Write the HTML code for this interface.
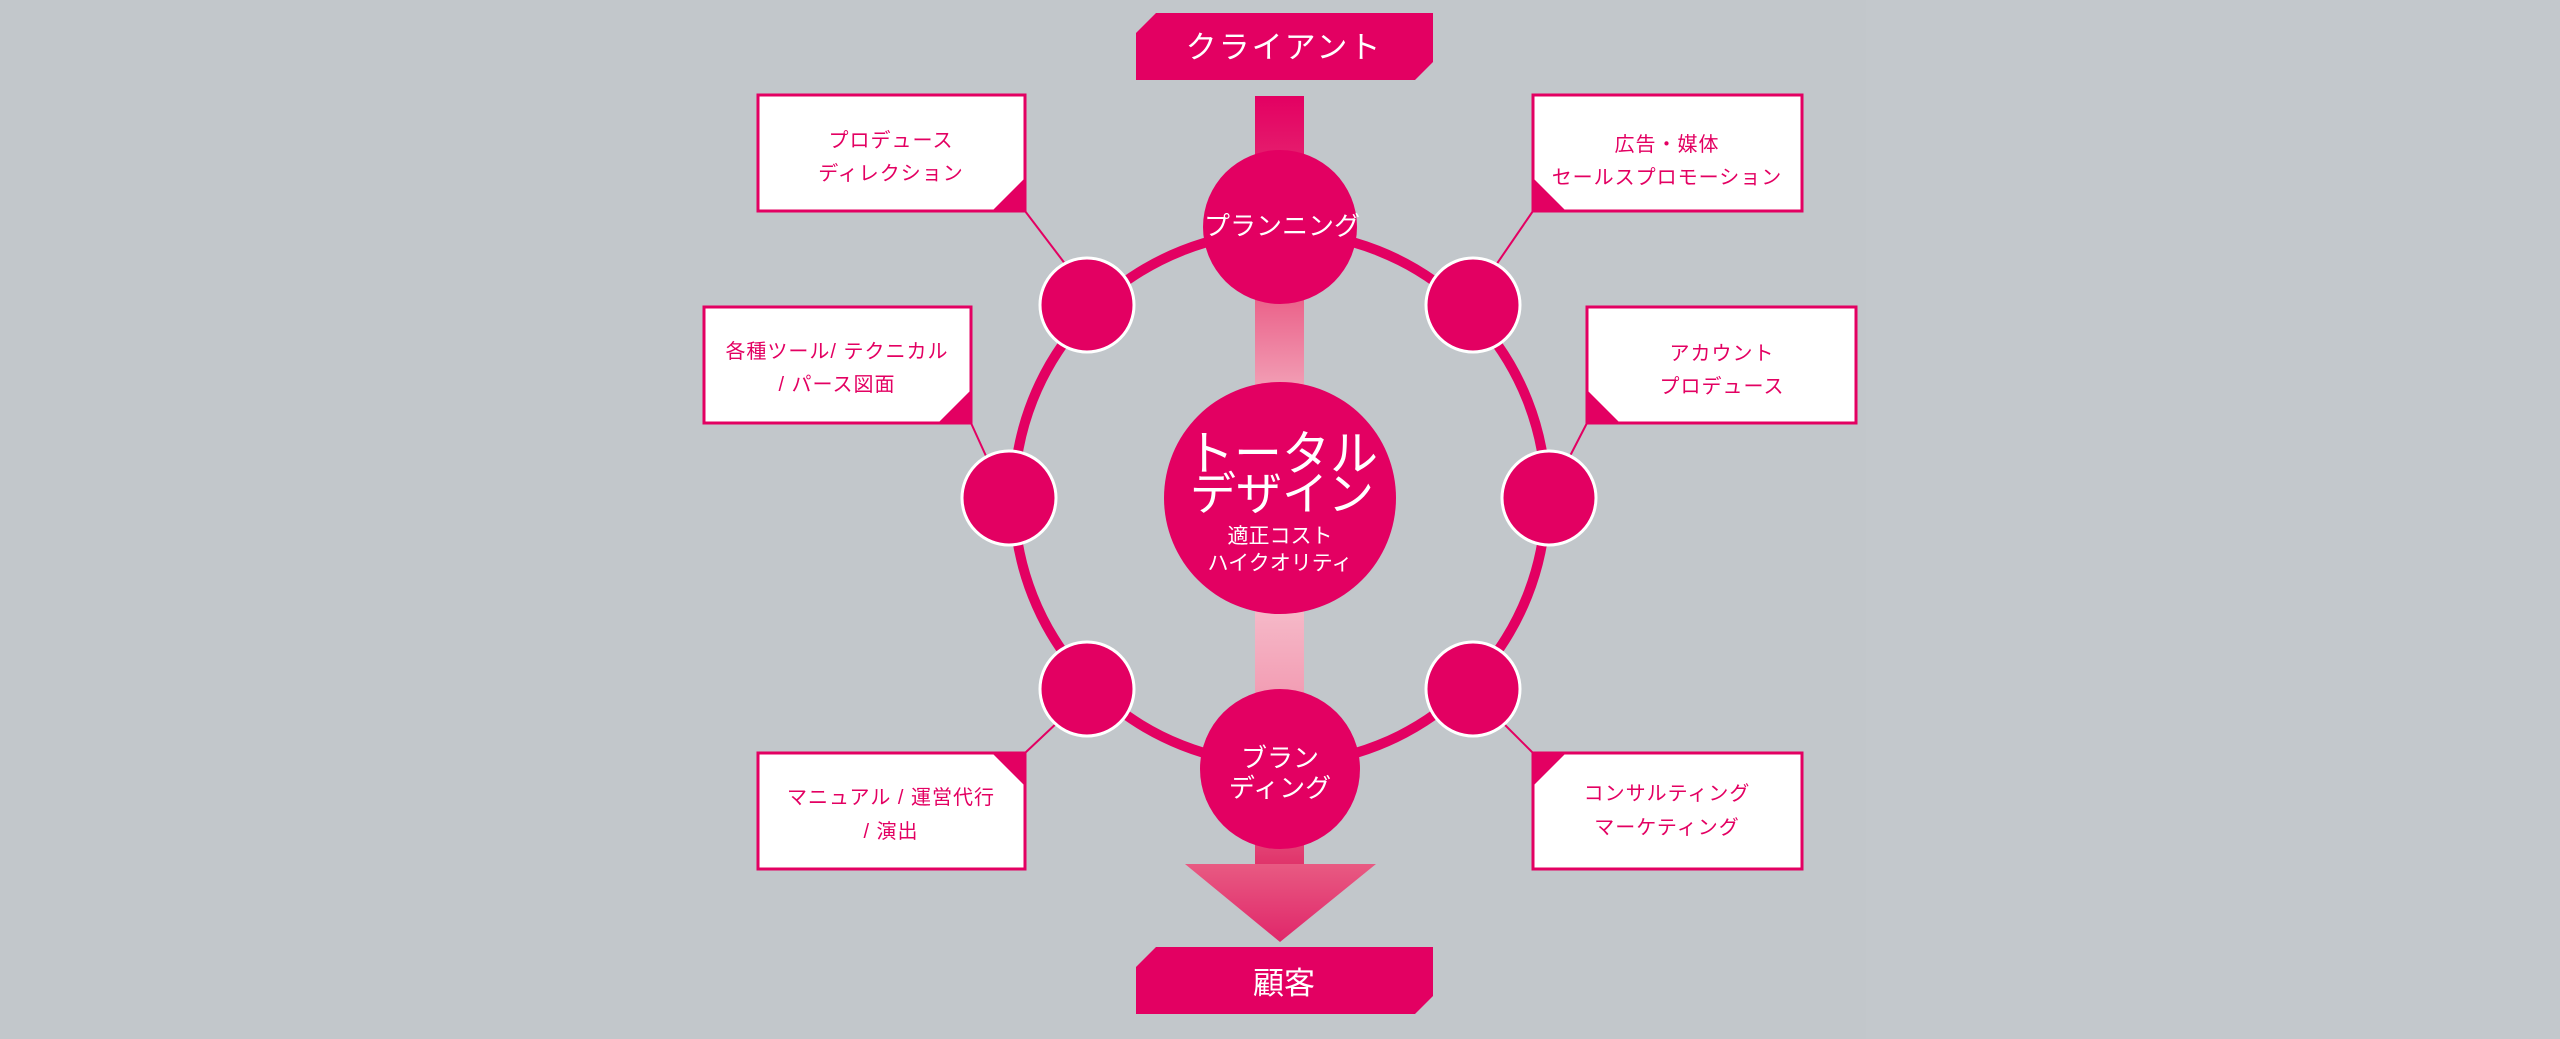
<!DOCTYPE html>
<html><head><meta charset="utf-8"><style>
html,body{margin:0;padding:0}
body{width:2560px;height:1039px;background:#c2c7cb;overflow:hidden;font-family:"Liberation Sans","Noto Sans CJK JP",sans-serif}
</style></head><body>
<svg width="2560" height="1039" xmlns="http://www.w3.org/2000/svg" style="position:absolute;left:0;top:0">
<defs>
<linearGradient id="bar" x1="0" y1="96" x2="0" y2="865" gradientUnits="userSpaceOnUse">
<stop offset="0" stop-color="#e30062"/>
<stop offset="0.25" stop-color="#ea5b85"/>
<stop offset="0.45" stop-color="#f6c3cf"/>
<stop offset="0.6" stop-color="#f8cbd5"/>
<stop offset="0.85" stop-color="#f08aa6"/>
<stop offset="1" stop-color="#e0336a"/>
</linearGradient>
<linearGradient id="arr" x1="0" y1="864" x2="0" y2="942" gradientUnits="userSpaceOnUse">
<stop offset="0" stop-color="#e85a82"/><stop offset="1" stop-color="#e0266a"/>
</linearGradient>
</defs>
<rect x="1866" y="0" width="694" height="1039" fill="#c3c8cc"/>
<rect x="1255" y="96" width="49" height="770" fill="url(#bar)"/>
<polygon points="1185,864 1376,864 1280,942" fill="url(#arr)"/>
<circle cx="1280" cy="498" r="266" fill="none" stroke="#e30062" stroke-width="10"/>
<g stroke="#e30062" stroke-width="2">
<line x1="1025" y1="211" x2="1066" y2="265"/>
<line x1="971" y1="423" x2="986" y2="456"/>
<line x1="1025" y1="753" x2="1060" y2="720"/>
<line x1="1533" y1="211" x2="1496" y2="265"/>
<line x1="1587" y1="423" x2="1570" y2="456"/>
<line x1="1533" y1="753" x2="1500" y2="720"/>
</g>
<g fill="#e30062" stroke="#fff" stroke-width="3">
<circle cx="1087" cy="305" r="47"/><circle cx="1473" cy="305" r="47"/>
<circle cx="1009" cy="498" r="47"/><circle cx="1549" cy="498" r="47"/>
<circle cx="1087" cy="689" r="47"/><circle cx="1473" cy="689" r="47"/>
</g>
<circle cx="1280" cy="227" r="77" fill="#e30062"/>
<circle cx="1280" cy="769" r="80" fill="#e30062"/>
<circle cx="1280" cy="498" r="116" fill="#e30062"/>
<polygon points="1156,13 1433,13 1433,62 1415,80 1136,80 1136,33" fill="#e30062"/>
<polygon points="1156,947 1433,947 1433,996 1415,1014 1136,1014 1136,967" fill="#e30062"/>
<g fill="#fff" stroke="#e30062" stroke-width="3">
<rect x="758" y="95" width="267" height="116"/>
<rect x="704" y="307" width="267" height="116"/>
<rect x="758" y="753" width="267" height="116"/>
<rect x="1533" y="95" width="269" height="116"/>
<rect x="1587" y="307" width="269" height="116"/>
<rect x="1533" y="753" width="269" height="116"/>
</g>
<g fill="#e30062">
<polygon points="1025,178 1025,211 992,211"/>
<polygon points="971,390 971,423 938,423"/>
<polygon points="992,753 1025,753 1025,786"/>
<polygon points="1533,178 1533,211 1566,211"/>
<polygon points="1587,390 1587,423 1620,423"/>
<polygon points="1533,753 1566,753 1533,786"/>
</g>
<g fill="#e30062" font-size="20" text-anchor="middle" letter-spacing="1">
<text x="891" y="147">プロデュース</text><text x="891" y="180">ディレクション</text>
<text x="837" y="358">各種ツール/ テクニカル</text><text x="837" y="391">/ パース図面</text>
<text x="891" y="804">マニュアル / 運営代行</text><text x="891" y="838">/ 演出</text>
<text x="1667" y="151">広告・媒体</text><text x="1667" y="184">セールスプロモーション</text>
<text x="1722" y="360">アカウント</text><text x="1722" y="393">プロデュース</text>
<text x="1667" y="800">コンサルティング</text><text x="1667" y="834">マーケティング</text>
</g>
<g fill="#fff" text-anchor="middle">
<text x="1284" y="58" font-size="31" letter-spacing="2">クライアント</text>
<text x="1284" y="994" font-size="31">顧客</text>
<text x="1282" y="235" font-size="26">プランニング</text>
<text x="1280" y="767" font-size="26">ブラン</text>
<text x="1280" y="797" font-size="26">ディング</text>
<text x="1282" y="470" font-size="48">トータル</text>
<text x="1282" y="510" font-size="46">デザイン</text>
<text x="1280" y="543" font-size="21">適正コスト</text>
<text x="1280" y="570" font-size="21">ハイクオリティ</text>
</g>
</svg>
</body></html>
